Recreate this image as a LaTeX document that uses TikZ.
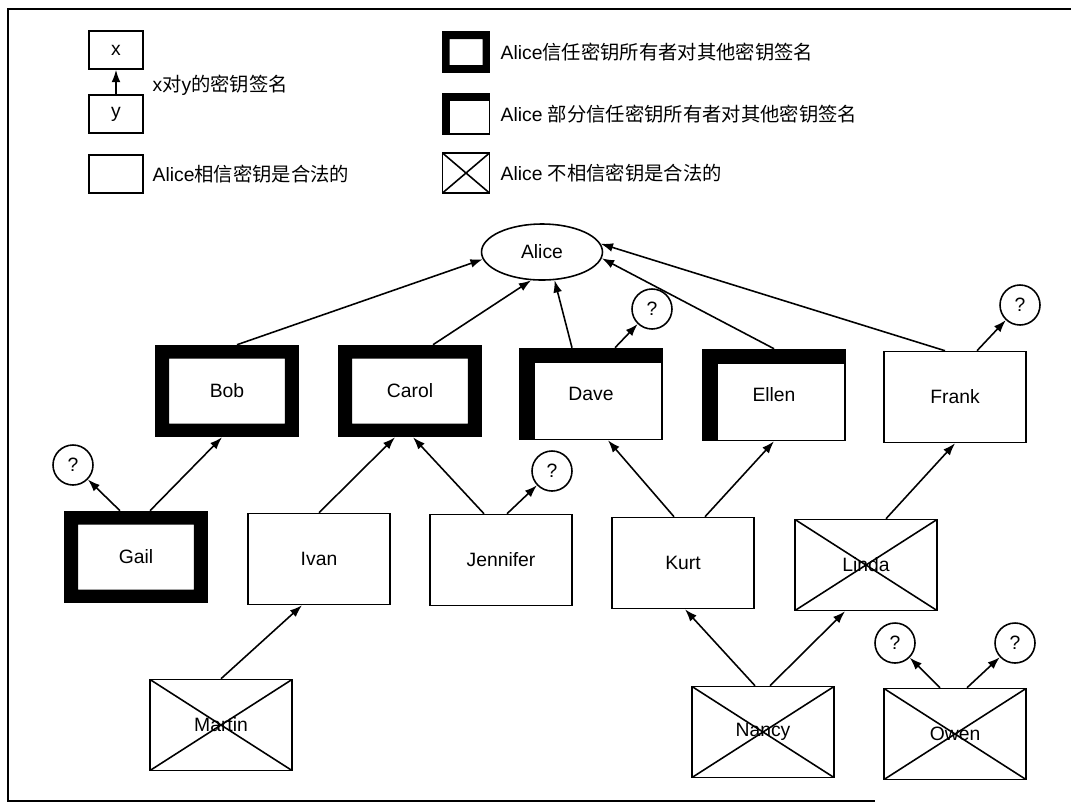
\documentclass[tikz,border=0pt]{standalone}
\usepackage{fontspec}
\setmainfont{Liberation Sans}
\newfontfamily\cjk{Noto Sans CJK SC}
\usetikzlibrary{
  arrows.meta,%
  shapes.geometric,%
  positioning
}
\tikzset{>={Latex[length=7pt,width=5pt]}}
\tikzset{font=\fontsize{11}{13}\selectfont}
\tikzset{every path/.style={line width=0.9pt}}
\tikzset{keybox/.style={draw, inner sep=0pt,
    minimum width=2.84cm, minimum height=1.82cm}}
\tikzset{smallbox/.style={keybox, minimum width=1.08cm, minimum height=0.76cm}}
% all four sides thick
\tikzset{trusted/.style={path picture={\fill[even odd rule]
      (path picture bounding box.south west) rectangle
      (path picture bounding box.north east)
      ([shift={(#1,#1)}]path picture bounding box.south west) rectangle
      ([shift={(-#1,-#1)}]path picture bounding box.north east);}}}
% only left and top thick
\tikzset{partial/.style={path picture={%
      \fill (path picture bounding box.south west) rectangle
      ([xshift=#1]path picture bounding box.north west);
      \fill (path picture bounding box.north west) rectangle
      ([yshift=-#1]path picture bounding box.north east);}}}
\tikzset{crossed/.style={path picture={%
      \draw (path picture bounding box.north west) --
      (path picture bounding box.south east)
      (path picture bounding box.north east) --
      (path picture bounding box.south west);}}}
\tikzset{query/.style={draw, circle, minimum size=0.8cm, inner sep=0pt}}

\begin{document}
\begin{tikzpicture}[x=0.02cm, y=-0.02cm]
  \useasboundingbox (0,0) rectangle (1071,809);
  \draw (1071,9) -- (8,9) -- (8,801) -- (875,801); %

  % legend
  \node[smallbox] (xkey) at (116,50) {x}; %
  \node[smallbox] (ykey) at (116,114) {y}; %
  \draw[->] (ykey) -- (xkey); %
  \node[anchor=west] (signlbl) at (146,85) {x{\cjk 对}y{\cjk 的密钥签名}}; %
  \node[smallbox] (legit) at (116,174) {}; %
  \node[anchor=west] (legitlbl) at (146,174) {Alice{\cjk 相信密钥是合法的}}; %
  \node[smallbox, minimum width=0.94cm, minimum height=0.8cm,
    trusted=0.14cm] (fullkey) at (466,52) {}; %
  \node[anchor=west] (fulllbl) at (494,52)
    {Alice{\cjk 信任密钥所有者对其他密钥签名}}; %
  \node[smallbox, minimum width=0.94cm, minimum height=0.8cm,
    partial=0.14cm] (partkey) at (466,114) {}; %
  \node[anchor=west] (partlbl) at (494,114)
    {Alice {\cjk 部分信任密钥所有者对其他密钥签名}}; %
  \node[smallbox, minimum width=0.94cm, minimum height=0.8cm,
    crossed] (badkey) at (466,173) {}; %
  \node[anchor=west] (badlbl) at (494,173)
    {Alice {\cjk 不相信密钥是合法的}}; %

  % keys
  \node[draw, ellipse, minimum width=2.42cm, minimum height=1.12cm,
    inner sep=0pt] (alice) at (542,252) {Alice}; %
  \node[keybox, trusted=0.26cm] (bob) at (227,391) {Bob}; %
  \node[keybox, trusted=0.26cm] (carol) at (410,391) {Carol}; %
  \node[keybox, partial=0.29cm] (dave) at (591,394) {Dave}; %
  \node[keybox, partial=0.29cm] (ellen) at (774,395) {Ellen}; %
  \node[keybox] (frank) at (955,397) {Frank}; %
  \node[keybox, trusted=0.26cm] (gail) at (136,557) {Gail}; %
  \node[keybox] (ivan) at (319,559) {Ivan}; %
  \node[keybox] (jennifer) at (501,560) {Jennifer}; %
  \node[keybox] (kurt) at (683,563) {Kurt}; %
  \node[keybox, crossed] (linda) at (866,565) {Linda}; %
  \node[keybox, crossed] (martin) at (221,725) {Martin}; %
  \node[keybox, crossed] (nancy) at (763,732) {Nancy}; %
  \node[keybox, crossed] (owen) at (955,734) {Owen}; %

  \node[query] (qgail) at (73,465) {?}; %
  \node[query] (qdave) at (652,309) {?}; %
  \node[query] (qjennifer) at (552,471) {?}; %
  \node[query] (qfrank) at (1020,305) {?}; %
  \node[query] (qowenl) at (895,643) {?}; %
  \node[query] (qowenr) at (1015,643) {?}; %

  % signatures
  \draw[->] ([xshift=0.2cm]bob.north) -- (alice.187); %
  \draw[->] ([xshift=0.46cm]carol.north) -- (alice.249); %
  \draw[->] ([xshift=-0.38cm]dave.north) -- (alice.294); %
  \draw[->] ([xshift=0.48cm]dave.north) -- (qdave); %
  \draw[->] (ellen.north) -- (alice.354); %
  \draw[->] ([xshift=-0.2cm]frank.north) -- (alice.8); %
  \draw[->] ([xshift=0.44cm]frank.north) -- (qfrank); %
  \draw[->] ([xshift=0.28cm]gail.north) -- ([xshift=-0.1cm]bob.south); %
  \draw[->] ([xshift=-0.32cm]gail.north) -- (qgail); %
  \draw[->] (ivan.north) -- ([xshift=-0.3cm]carol.south); %
  \draw[->] ([xshift=-0.34cm]jennifer.north) -- ([xshift=0.06cm]carol.south); %
  \draw[->] ([xshift=0.12cm]jennifer.north) -- (qjennifer); %
  \draw[->] ([xshift=-0.18cm]kurt.north) -- ([xshift=0.34cm]dave.south); %
  \draw[->] ([xshift=0.44cm]kurt.north) -- (ellen.south); %
  \draw[->] ([xshift=0.4cm]linda.north) -- (frank.south); %
  \draw[->] (martin.north) -- ([xshift=-0.34cm]ivan.south); %
  \draw[->] ([xshift=-0.16cm]nancy.north) -- ([xshift=0.04cm]kurt.south); %
  \draw[->] ([xshift=0.14cm]nancy.north) -- ([xshift=-0.42cm]linda.south); %
  \draw[->] ([xshift=-0.3cm]owen.north) -- (qowenl); %
  \draw[->] ([xshift=0.24cm]owen.north) -- (qowenr); %
\end{tikzpicture}
\end{document}
